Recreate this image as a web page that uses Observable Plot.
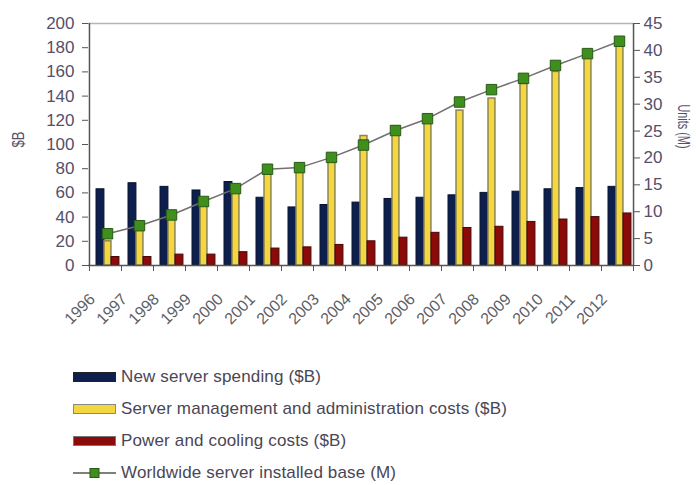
<!DOCTYPE html>
<html><head><meta charset="utf-8">
<script src="https://cdn.jsdelivr.net/npm/d3@7"></script>
<script src="https://cdn.jsdelivr.net/npm/@observablehq/plot@0.6"></script>
<style>
body{margin:0;background:#fff;font-family:"Liberation Sans",Arial,sans-serif;}
#legend{position:relative;height:130px;width:696px;}
.item{position:absolute;left:73px;height:20px;display:flex;align-items:center;font-size:17px;letter-spacing:0.15px;color:#4a4656;white-space:nowrap;}
.sw{width:43px;height:10px;margin-right:5px;box-sizing:border-box;}
</style></head><body><div id="chart"></div><div id="legend"></div>
<script>
const years = ["1996","1997","1998","1999","2000","2001","2002","2003","2004","2005","2006","2007","2008","2009","2010","2011","2012"];
const newServer = [63, 68, 65, 62, 69, 56, 48, 50, 52, 55, 56, 58, 60, 61, 63, 64, 65];
const mgmt = [20, 30, 43, 51, 62, 78, 79, 88, 107, 115, 119, 128, 138, 150, 160, 171, 182];
const power = [7, 7, 9, 9, 11, 14, 15, 17, 20, 23, 27, 31, 32, 36, 38, 40, 43];
const installedBase = [5.9, 7.4, 9.4, 11.9, 14.3, 17.9, 18.2, 20.1, 22.4, 25.1, 27.3, 30.4, 32.7, 34.8, 37.2, 39.4, 41.7];
const dollarTicks = [0, 20, 40, 60, 80, 100, 120, 140, 160, 180, 200];
const unitTicks = [0, 5, 10, 15, 20, 25, 30, 35, 40, 45];
const seriesNames = ["New server spending ($B)", "Server management and administration costs ($B)", "Power and cooling costs ($B)", "Worldwide server installed base (M)"];

const k = 200 / 45;
const W = 696, H = 355, mL = 88, mR = 63, mT = 23, mB = 90;
const bw = (W - mL - mR) / years.length;
const data = years.map((y, i) => ({year: y, navy: newServer[i], yellow: mgmt[i], red: power[i], units: installedBase[i]}));
const txt = "#55506a";
const font = "'Liberation Sans', Arial, sans-serif";

const chart = Plot.plot({
  width: W, height: H, marginLeft: mL, marginRight: mR, marginTop: mT, marginBottom: mB,
  style: {fontFamily: font, fontSize: "17px", color: txt, background: "#fff"},
  x: {type: "band", domain: years, padding: 0, label: null},
  y: {domain: [0, 200], label: null},
  marks: [
    Plot.ruleY([200], {stroke: "#b5b5b5", strokeWidth: 1.5}),
    Plot.barY(data, {x: "year", y: "navy", fill: "#0d1f4d", stroke: "#08142f", insetLeft: 7, insetRight: bw - 15}),
    Plot.barY(data, {x: "year", y: "yellow", fill: "#f4d63e", stroke: "#8e8450", strokeWidth: 1.5, insetLeft: 15, insetRight: bw - 22}),
    Plot.barY(data, {x: "year", y: "red", fill: "#8c0a0a", stroke: "#4a0505", insetLeft: 22, insetRight: bw - 30}),
    Plot.lineY(data, {x: "year", y: d => d.units * k, stroke: "#707070", strokeWidth: 1.5, dx: 2}),
    Plot.dot(data, {x: "year", y: d => d.units * k, symbol: "square", r: 5.9, fill: "#3f8f1f", stroke: "#2a5a14", strokeWidth: 1, dx: 2}),
    Plot.ruleX([years[0]], {dx: -bw / 2, stroke: "#555", strokeWidth: 1.5}),
    Plot.ruleX([years[years.length - 1]], {dx: bw / 2, stroke: "#555", strokeWidth: 1.5}),
    Plot.ruleY([0], {stroke: "#555", strokeWidth: 1.5}),
    Plot.ruleX(years, {x: d => d, dx: -bw / 2, y1: 0, y2: -5, stroke: "#555"}),
    Plot.ruleX([years[years.length - 1]], {dx: bw / 2, y1: 0, y2: -5, stroke: "#555"}),
    Plot.axisY(dollarTicks, {anchor: "left", tickSize: 6, tickPadding: 8, stroke: "#555", fill: txt, label: null}),
    Plot.axisY(unitTicks.map(u => u * k), {anchor: "right", tickSize: 6, tickPadding: 4, tickFormat: d => Math.round(d / k), stroke: "#555", fill: txt, label: null}),
    Plot.axisX({tickSize: 0, tickRotate: -45, tickPadding: 31, dx: -13, fontSize: 16, fill: "#5a6068", label: null}),
    Plot.text(["$B"], {frameAnchor: "left", textAnchor: "middle", dx: -70, dy: -5, rotate: -90, fontSize: 16, fill: txt, className: "lb1"}),
    Plot.text(["Units (M)"], {frameAnchor: "right", textAnchor: "middle", dx: 50, dy: -18, rotate: 90, fontSize: 17, fill: txt, className: "lb2"})
  ]
});
const t1 = chart.querySelector(".lb1 text");
if (t1) { t1.setAttribute("textLength", 16); t1.setAttribute("lengthAdjust", "spacingAndGlyphs"); }
const t2 = chart.querySelector(".lb2 text");
if (t2) { t2.setAttribute("textLength", 44); t2.setAttribute("lengthAdjust", "spacingAndGlyphs"); }
document.getElementById("chart").appendChild(chart);

const legend = document.getElementById("legend");
const swatches = [
  {fill: "#0d1f4d", border: "#222"},
  {fill: "#f4d63e", border: "#888"},
  {fill: "#8c0a0a", border: "#777"},
  null
];
const centers = [22, 54, 86, 118];
seriesNames.forEach((name, i) => {
  const item = document.createElement("div");
  item.className = "item";
  item.style.top = (centers[i] - 10) + "px";
  let sw;
  if (swatches[i]) {
    sw = document.createElement("div");
    sw.className = "sw";
    sw.style.background = swatches[i].fill;
    sw.style.border = "1.5px solid " + swatches[i].border;
  } else {
    sw = document.createElementNS("http://www.w3.org/2000/svg", "svg");
    sw.setAttribute("width", 43); sw.setAttribute("height", 12);
    sw.style.marginRight = "5px";
    sw.innerHTML = '<line x1="0" y1="6" x2="43" y2="6" stroke="#555" stroke-width="1.5"/><rect x="17" y="1.5" width="9" height="9" fill="#3f8f1f" stroke="#2a5a14"/>';
  }
  item.appendChild(sw);
  const t = document.createElement("span");
  t.textContent = name;
  item.appendChild(t);
  legend.appendChild(item);
});
</script>
</body></html>
